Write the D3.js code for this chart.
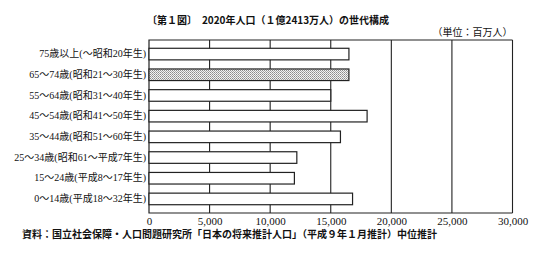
<!DOCTYPE html>
<html>
<head>
<meta charset="utf-8">
<script src="https://cdn.jsdelivr.net/npm/d3@7"></script>
<style>
  body { margin: 0; background: #fff; }
  svg { display: block; }
</style>
</head>
<body>
<div id="chart"></div>
<script>
// age groups, top to bottom
const categories = [
  "75歳以上(〜昭和20年生)",
  "65〜74歳(昭和21〜30年生)",
  "55〜64歳(昭和31〜40年生)",
  "45〜54歳(昭和41〜50年生)",
  "35〜44歳(昭和51〜60年生)",
  "25〜34歳(昭和61〜平成7年生)",
  "15〜24歳(平成8〜17年生)",
  "0〜14歳(平成18〜32年生)"
];
const values = [16500, 16500, 15000, 18000, 15800, 12200, 12000, 16800];
const highlighted = ["65〜74歳(昭和21〜30年生)"];
const xTicks = [0, 5000, 10000, 15000, 20000, 25000, 30000];

const width = 543, height = 255;
const plotLeft = 149, plotRight = 512.5, plotTop = 40, plotBottom = 213;
const serif = "'Liberation Serif', 'DejaVu Serif', 'Noto Sans CJK JP', serif";
const gothic = "'Noto Sans CJK JP', sans-serif";
const ink = "#222";

const svg = d3.select("#chart").append("svg")
  .attr("width", width)
  .attr("height", height);

// dotted fill for the highlighted bar
const pat = svg.append("defs").append("pattern")
  .attr("id", "dots")
  .attr("patternUnits", "userSpaceOnUse")
  .attr("width", 2).attr("height", 2);
pat.append("rect").attr("width", 2).attr("height", 2).attr("fill", "#f2f2f2");
pat.append("rect").attr("width", 1).attr("height", 1).attr("fill", "#8a8a8a");
pat.append("rect").attr("x", 1).attr("y", 1).attr("width", 1).attr("height", 1).attr("fill", "#a8a8a8");

const x = d3.scaleLinear().domain([0, 30000]).range([plotLeft, plotRight]);
const y = d3.scaleBand().domain(categories).range([plotTop, plotBottom])
  .paddingInner(0.44).paddingOuter(0.4);

// grid lines (bars are drawn over them)
svg.append("g").selectAll("line")
  .data(xTicks.slice(1))
  .enter().append("line")
  .attr("x1", d => x(d)).attr("x2", d => x(d))
  .attr("y1", plotTop).attr("y2", plotBottom)
  .style("stroke", ink)
  .style("stroke-width", 1.1);

// frame top + left + bottom
svg.append("path")
  .attr("d", `M${plotRight},${plotTop}H${plotLeft}V${plotBottom}H${plotRight}`)
  .style("fill", "none")
  .style("stroke", ink)
  .style("stroke-width", 1.2);

// bars
svg.append("g").selectAll("rect")
  .data(categories)
  .enter().append("rect")
  .attr("x", x(0))
  .attr("y", d => y(d))
  .attr("width", (d, i) => x(values[i]) - x(0))
  .attr("height", y.bandwidth())
  .style("fill", d => highlighted.includes(d) ? "url(#dots)" : "#fff")
  .style("stroke", ink)
  .style("stroke-width", 1.2);

// x axis labels
const xAxis = d3.axisBottom(x).tickValues(xTicks).tickSize(0).tickPadding(4)
  .tickFormat(d3.format(","));
const gx = svg.append("g").attr("transform", `translate(0,${plotBottom})`).call(xAxis);
gx.select(".domain").remove();
gx.selectAll("text")
  .style("font-family", serif)
  .style("font-size", "11px")
  .style("fill", "#111");

// y axis labels
const yAxis = d3.axisLeft(y).tickSize(0).tickPadding(3);
const gy = svg.append("g").attr("transform", `translate(${plotLeft},0)`).call(yAxis);
gy.select(".domain").remove();
gy.selectAll("text")
  .style("font-family", serif)
  .style("font-size", "10px")
  .style("fill", "#111");

// title
svg.append("text")
  .attr("x", 268).attr("y", 24)
  .attr("text-anchor", "middle")
  .style("font-family", gothic)
  .style("font-weight", "bold")
  .style("font-size", "10px")
  .style("fill", "#111")
  .text("〔第１図〕　2020年人口（１億2413万人）の世代構成");

// unit
svg.append("text")
  .attr("x", plotRight).attr("y", 36)
  .attr("text-anchor", "end")
  .style("font-family", gothic)
  .style("font-size", "10px")
  .style("fill", "#111")
  .text("（単位：百万人）");

// source
svg.append("text")
  .attr("x", 22).attr("y", 238)
  .style("font-family", gothic)
  .style("font-weight", "bold")
  .style("font-size", "10px")
  .style("fill", "#111")
  .text("資料：国立社会保障・人口問題研究所「日本の将来推計人口」（平成９年１月推計）中位推計");
</script>
</body>
</html>
